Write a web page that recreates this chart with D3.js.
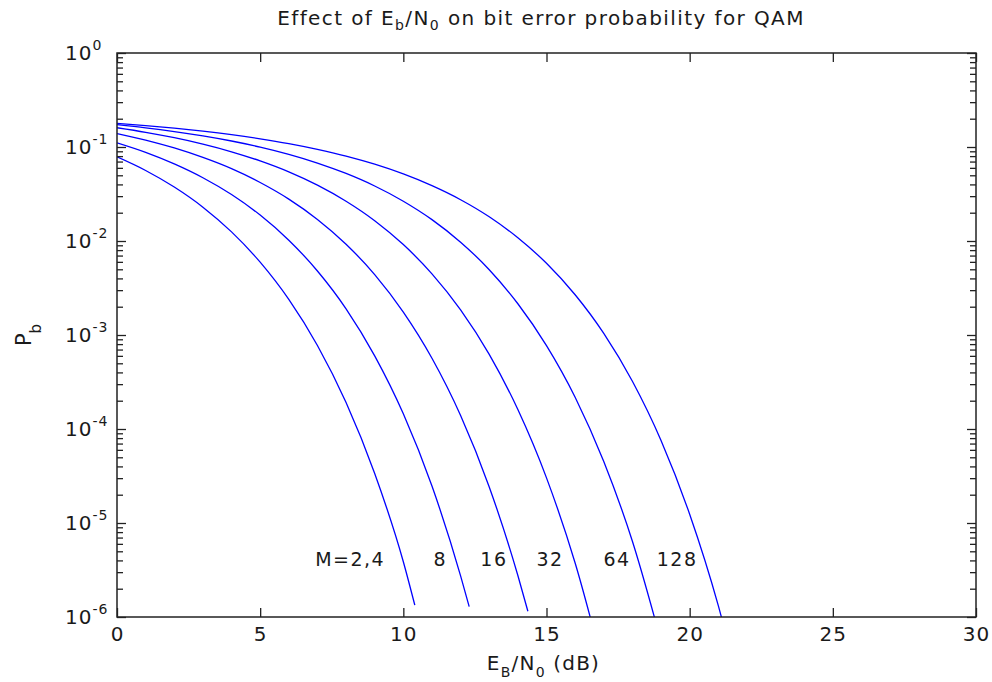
<!DOCTYPE html>
<html>
<head>
<meta charset="utf-8">
<script src="https://cdn.jsdelivr.net/npm/d3@7"></script>
<style>
  body { margin: 0; background: #fff; }
  text { font-family: "DejaVu Sans", sans-serif; fill: #1a1a1a; }
</style>
</head>
<body>
<div id="wrapper"></div>
<script>
/* data: Eb/N0 in dB and bit error probability per QAM order */
const m2X = [0, 1, 2, 3, 4, 5, 6, 7, 8, 9, 10, 10.4]
const m2Pb = [0.0786, 0.0563, 0.0375, 0.0229, 0.0125, 0.00595, 0.00239, 7.73e-4, 1.91e-4, 3.36e-5, 3.87e-6, 1.34e-6]

const m8X = [0, 1, 2, 3, 4, 5, 6, 7, 8, 9, 10, 11, 12, 12.3]
const m8Pb = [0.1107, 0.0877, 0.0661, 0.0471, 0.0312, 0.01886, 0.0102, 0.0048, 0.0019, 6.0e-4, 1.45e-4, 2.47e-5, 2.74e-6, 1.29e-6]

const m16X = [0, 1, 2, 3, 4, 5, 6, 7, 8, 9, 10, 11, 12, 13, 14, 14.35]
const m16Pb = [0.1392, 0.1184, 0.0976, 0.0774, 0.0588, 0.0419, 0.0279, 0.01697, 0.00925, 0.00439, 0.00175, 5.65e-4, 1.39e-4, 2.42e-5, 2.76e-6, 1.15e-6]

const m32X = [0, 1, 2, 3, 4, 5, 6, 7, 8, 9, 10, 11, 12, 13, 14, 15, 16, 17]
const m32Pb = [0.1603, 0.1433, 0.1255, 0.1073, 0.0890, 0.0711, 0.0544, 0.0393, 0.0265, 0.01644, 0.00916, 0.00447, 0.00185, 6.22e-4, 1.61e-4, 3.02e-5, 3.75e-6, 2.8e-7]

const m64X = [0, 1, 2, 3, 4, 5, 6, 7, 8, 9, 10, 11, 12, 13, 14, 15, 16, 17, 18, 19]
const m64Pb = [0.1730, 0.1601, 0.1461, 0.1313, 0.1158, 0.0997, 0.0835, 0.0675, 0.0523, 0.0385, 0.0265, 0.01688, 0.00972, 0.00495, 0.00215, 7.72e-4, 2.18e-4, 4.5e-5, 6.4e-6, 5.5e-7]

const m128X = [0, 1, 2, 3, 4, 5, 6, 7, 8, 9, 10, 11, 12, 13, 14, 15, 16, 17, 18, 19, 20, 21, 22]
const m128Pb = [0.1782, 0.1688, 0.1586, 0.1473, 0.1352, 0.1223, 0.1087, 0.0944, 0.0800, 0.0656, 0.0517, 0.0388, 0.0275, 0.0181, 0.01082, 0.00579, 0.00268, 0.00104, 3.22e-4, 7.55e-5, 1.24e-5, 1.32e-6, 8.0e-8]

const curveLabels = ["M=2,4", "8", "16", "32", "64", "128"]
const xTicks = [0, 5, 10, 15, 20, 25, 30]
const yExponents = [0, -1, -2, -3, -4, -5, -6]

/* step 1: dimensions */
const dimensions = {
  width: 992,
  height: 682,
  margin: { top: 53, right: 16, bottom: 65, left: 117 },
}
dimensions.boundedWidth = dimensions.width - dimensions.margin.left - dimensions.margin.right
dimensions.boundedHeight = dimensions.height - dimensions.margin.top - dimensions.margin.bottom

/* step 2: canvas */
const wrapper = d3.select("#wrapper")
  .append("svg")
  .attr("width", dimensions.width)
  .attr("height", dimensions.height)

const bounds = wrapper.append("g")
  .attr("transform", `translate(${dimensions.margin.left},${dimensions.margin.top})`)

/* step 3: scales */
const xScale = d3.scaleLinear()
  .domain([0, 30])
  .range([0, dimensions.boundedWidth])

const yScale = d3.scaleLog()
  .domain([1e-6, 1])
  .range([dimensions.boundedHeight, 0])

// minor ticks 2..9 in each decade
const yMinor = []
yExponents.slice(1).forEach(e => {
  for (let k = 2; k <= 9; k++) yMinor.push(k * Math.pow(10, e))
})

/* step 4: lines, clipped to the axes box */
bounds.append("clipPath").attr("id", "plot-clip")
  .append("rect")
  .attr("width", dimensions.boundedWidth)
  .attr("height", dimensions.boundedHeight)

const series = [
  [m2X, m2Pb], [m8X, m8Pb], [m16X, m16Pb],
  [m32X, m32Pb], [m64X, m64Pb], [m128X, m128Pb],
].map(([xs, ys]) => xs.map((v, i) => ({ x: v, y: ys[i] })))

const lineGenerator = d3.line()
  .x(d => xScale(d.x))
  .y(d => yScale(d.y))
  .curve(d3.curveMonotoneX)

bounds.append("g")
  .attr("clip-path", "url(#plot-clip)")
  .selectAll("path")
  .data(series)
  .join("path")
  .attr("d", lineGenerator)
  .attr("fill", "none")
  .attr("stroke", "#0000ff")
  .attr("stroke-width", 1.3)

/* step 5: axes - ticks point inward like matlab */
const styleAxis = g => {
  g.select(".domain").remove()
  g.selectAll("line").attr("stroke", "#222").attr("stroke-width", 1.3)
}

bounds.append("g")
  .attr("transform", `translate(0,${dimensions.boundedHeight})`)
  .call(d3.axisBottom(xScale).tickValues(xTicks).tickSize(-9).tickPadding(10).tickFormat(d3.format("d")))
  .call(styleAxis)
  .call(g => g.selectAll("text")
    .attr("font-size", 20)
    .attr("font-family", "DejaVu Sans")
    .attr("letter-spacing", 1)
    .attr("fill", "#1a1a1a"))

bounds.append("g")
  .call(d3.axisTop(xScale).tickValues(xTicks).tickSize(-9).tickFormat(""))
  .call(styleAxis)

const yMajor = yExponents.map(e => Math.pow(10, e))
bounds.append("g")
  .call(d3.axisLeft(yScale).tickValues(yMajor).tickSize(-9).tickFormat(""))
  .call(styleAxis)
bounds.append("g")
  .call(d3.axisLeft(yScale).tickValues(yMinor).tickSize(-6).tickFormat(""))
  .call(styleAxis)
bounds.append("g")
  .attr("transform", `translate(${dimensions.boundedWidth},0)`)
  .call(d3.axisRight(yScale).tickValues(yMajor).tickSize(-9).tickFormat(""))
  .call(styleAxis)
bounds.append("g")
  .attr("transform", `translate(${dimensions.boundedWidth},0)`)
  .call(d3.axisRight(yScale).tickValues(yMinor).tickSize(-6).tickFormat(""))
  .call(styleAxis)

// y tick labels as 10^e
const yLabels = bounds.append("g")
  .selectAll("text")
  .data(yExponents)
  .join("text")
  .attr("x", -52)
  .attr("y", e => yScale(Math.pow(10, e)) + 7)
  .attr("font-size", 20)
  .attr("letter-spacing", 1)
yLabels.append("tspan").text("10")
yLabels.append("tspan").attr("dy", -10).attr("font-size", 14).text(e => e)

// box
bounds.append("rect")
  .attr("width", dimensions.boundedWidth)
  .attr("height", dimensions.boundedHeight)
  .attr("fill", "none")
  .attr("stroke", "#222")
  .attr("stroke-width", 1.5)

/* step 6: text */
const title = wrapper.append("text")
  .attr("x", 541)
  .attr("y", 25)
  .attr("text-anchor", "middle")
  .attr("font-size", 20)
  .attr("letter-spacing", 1.4)
title.append("tspan").text("Effect of E")
title.append("tspan").attr("dy", 5).attr("font-size", 14).text("b")
title.append("tspan").attr("dy", -5).text("/N")
title.append("tspan").attr("dy", 5).attr("font-size", 14).text("0")
title.append("tspan").attr("dy", -5).text(" on bit error probability for QAM")

const xLabel = wrapper.append("text")
  .attr("x", dimensions.margin.left + dimensions.boundedWidth / 2 - 3)
  .attr("y", 670)
  .attr("text-anchor", "middle")
  .attr("font-size", 20)
  .attr("letter-spacing", 1.2)
xLabel.append("tspan").text("E")
xLabel.append("tspan").attr("dy", 7).attr("font-size", 14).text("B")
xLabel.append("tspan").attr("dy", -7).text("/N")
xLabel.append("tspan").attr("dy", 7).attr("font-size", 14).text("0")
xLabel.append("tspan").attr("dy", -7).text(" (dB)")

const yLabel = wrapper.append("text")
  .attr("transform", `translate(31,${dimensions.margin.top + dimensions.boundedHeight / 2}) rotate(-90)`)
  .attr("text-anchor", "middle")
  .attr("font-size", 21)
yLabel.append("tspan").text("P")
yLabel.append("tspan").attr("dy", 10).attr("font-size", 15).text("b")

// curve labels, placed at Eb/N0 positions just above the 1e-6 floor
const labelDb = [6.92, 11.05, 12.69, 14.65, 16.99, 18.85]
bounds.append("g")
  .selectAll("text")
  .data(curveLabels)
  .join("text")
  .attr("x", (d, i) => xScale(labelDb[i]))
  .attr("y", 566 - dimensions.margin.top)
  .attr("font-size", 19)
  .attr("letter-spacing", 1.5)
  .text(d => d)
</script>
</body>
</html>
